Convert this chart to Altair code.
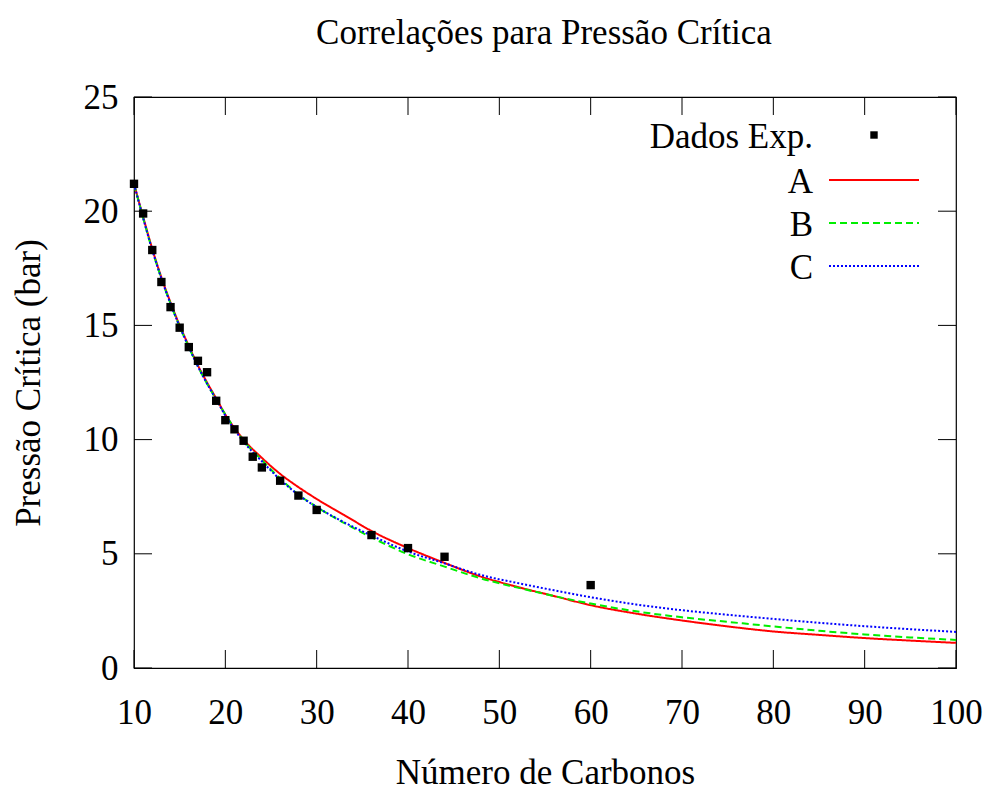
import altair as alt
import pandas as pd

# Experimental data (Número de Carbonos vs Pressão Crítica)
exp_x = [10, 11, 12, 13, 14, 15, 16, 17, 18, 19, 20, 21, 22, 23, 24, 26, 28, 30, 36, 40, 44, 60]
exp_y = [21.2, 19.9, 18.3, 16.9, 15.8, 14.9, 14.05, 13.45, 12.95, 11.7, 10.85, 10.45, 9.95,
         9.25, 8.78, 8.2, 7.55, 6.92, 5.82, 5.25, 4.87, 3.63]

# Correlation curves
curve_x = [10, 11, 12, 13, 14, 15, 16, 17, 18, 19, 20, 22, 24, 26, 28, 30, 33, 36, 40, 44,
           48, 52, 56, 60, 65, 70, 75, 80, 85, 90, 95, 100]
curve_a = [21.2, 19.75, 18.35, 17.1, 16.0, 15.0, 14.1, 13.25, 12.5, 11.8, 11.1, 10.0, 9.2, 8.5,
           7.92, 7.4, 6.7, 6.0, 5.25, 4.6, 4.0, 3.55, 3.15, 2.75, 2.38, 2.08, 1.82, 1.6, 1.45,
           1.31, 1.2, 1.1]
curve_b = [21.2, 19.7, 18.3, 17.05, 15.95, 14.95, 14.05, 13.2, 12.45, 11.75, 11.1, 9.95, 9.1, 8.3,
           7.6, 7.05, 6.35, 5.72, 4.98, 4.44, 3.92, 3.52, 3.15, 2.82, 2.48, 2.22, 2.02, 1.82, 1.63,
           1.47, 1.34, 1.23]
curve_c = [21.2, 19.7, 18.3, 17.05, 15.95, 14.95, 14.05, 13.2, 12.45, 11.75, 11.05, 9.9, 9.05, 8.25,
           7.58, 7.05, 6.38, 5.8, 5.1, 4.58, 4.07, 3.72, 3.4, 3.1, 2.78, 2.53, 2.33, 2.15, 1.98,
           1.83, 1.7, 1.58]

series_names = ["A", "B", "C"]
series_colors = ["#ff0000", "#00ee00", "#0000ff"]
series_dash = [[1, 0], [7, 4], [2, 2]]

x_ticks = [10, 20, 30, 40, 50, 60, 70, 80, 90, 100]
y_ticks = [0, 5, 10, 15, 20, 25]

title_text = "Correlações para Pressão Crítica"

W, H = 822, 571
FONT = "Liberation Serif"
FS = 35

exp_df = pd.DataFrame({"x": exp_x, "y": exp_y})
curves_df = pd.concat([
    pd.DataFrame({"x": curve_x, "y": vals, "s": name})
    for name, vals in zip(series_names, [curve_a, curve_b, curve_c])
])

xs = alt.Scale(domain=[10, 100], nice=False)
ys = alt.Scale(domain=[0, 25], nice=False)

x_axis = alt.Axis(values=x_ticks, title="Número de Carbonos", labelPadding=27, titlePadding=25,
                  labelFlush=False)
y_axis = alt.Axis(values=y_ticks, title="Pressão Crítica (bar)", labelPadding=16, titlePadding=37,
                  labelFlush=False)

lines = alt.Chart(curves_df).mark_line(strokeWidth=2, interpolate="monotone", clip=True).encode(
    x=alt.X("x:Q", scale=xs, axis=x_axis),
    y=alt.Y("y:Q", scale=ys, axis=y_axis),
    color=alt.Color("s:N", scale=alt.Scale(domain=series_names, range=series_colors), legend=None),
    strokeDash=alt.StrokeDash("s:N", scale=alt.Scale(domain=series_names, range=series_dash), legend=None),
    detail="s:N",
)

points = alt.Chart(exp_df).mark_square(size=70, color="black", opacity=1, filled=True).encode(
    x=alt.X("x:Q", scale=xs),
    y=alt.Y("y:Q", scale=ys),
)

TL = 18
xt_df = pd.DataFrame({"v": x_ticks})
yt_df = pd.DataFrame({"v": y_ticks})
xt_bottom = alt.Chart(xt_df).mark_rule(color="black", strokeWidth=1).encode(
    x=alt.X("v:Q", scale=xs), y=alt.value(H), y2=alt.value(H - TL))
xt_top = alt.Chart(xt_df).mark_rule(color="black", strokeWidth=1).encode(
    x=alt.X("v:Q", scale=xs), y=alt.value(0), y2=alt.value(TL))
yt_left = alt.Chart(yt_df).mark_rule(color="black", strokeWidth=1).encode(
    y=alt.Y("v:Q", scale=ys), x=alt.value(0), x2=alt.value(TL))
yt_right = alt.Chart(yt_df).mark_rule(color="black", strokeWidth=1).encode(
    y=alt.Y("v:Q", scale=ys), x=alt.value(W - TL), x2=alt.value(W))

dummy = pd.DataFrame({"k": [0]})

# Title as a text mark above the plot
title_layer = alt.Chart(dummy).mark_text(
    align="center", baseline="alphabetic", font=FONT, fontSize=FS, color="black"
).encode(x=alt.value(W / 2 - 1), y=alt.value(-53), text=alt.value(title_text))

# Manual gnuplot-style legend (label on the left, sample on the right)
leg_text_x = 679
leg_x1, leg_x2 = 695, 785
leg_rows = [38, 83, 126, 169]
leg_labels = ["Dados Exp."] + series_names
legend_layers = []
for i, lab in enumerate(leg_labels):
    legend_layers.append(
        alt.Chart(dummy).mark_text(align="right", baseline="middle", font=FONT, fontSize=FS, color="black").encode(
            x=alt.value(leg_text_x), y=alt.value(leg_rows[i] + 2), text=alt.value(lab))
    )
legend_layers.append(
    alt.Chart(dummy).mark_square(size=55, color="black", opacity=1, filled=True).encode(
        x=alt.value((leg_x1 + leg_x2) / 2), y=alt.value(leg_rows[0]))
)
for i, name in enumerate(series_names):
    legend_layers.append(
        alt.Chart(dummy).mark_rule(color=series_colors[i], strokeWidth=2, strokeDash=series_dash[i]).encode(
            x=alt.value(leg_x1), x2=alt.value(leg_x2), y=alt.value(leg_rows[i + 1]))
    )

chart = alt.layer(lines, points, xt_bottom, xt_top, yt_left, yt_right, title_layer, *legend_layers).properties(
    width=W, height=H,
    autosize=alt.AutoSizeParams(type="none"),
    padding={"left": 134, "top": 97, "right": 31, "bottom": 124},
).configure_view(
    stroke="black", strokeWidth=1.2
).configure_axis(
    domain=False, ticks=False, grid=False,
    labelFont=FONT, labelFontSize=FS, labelColor="black",
    titleFont=FONT, titleFontSize=FS, titleFontWeight="normal", titleColor="black",
)

chart.save("out.html", embed_options={"renderer": "svg", "actions": False})
